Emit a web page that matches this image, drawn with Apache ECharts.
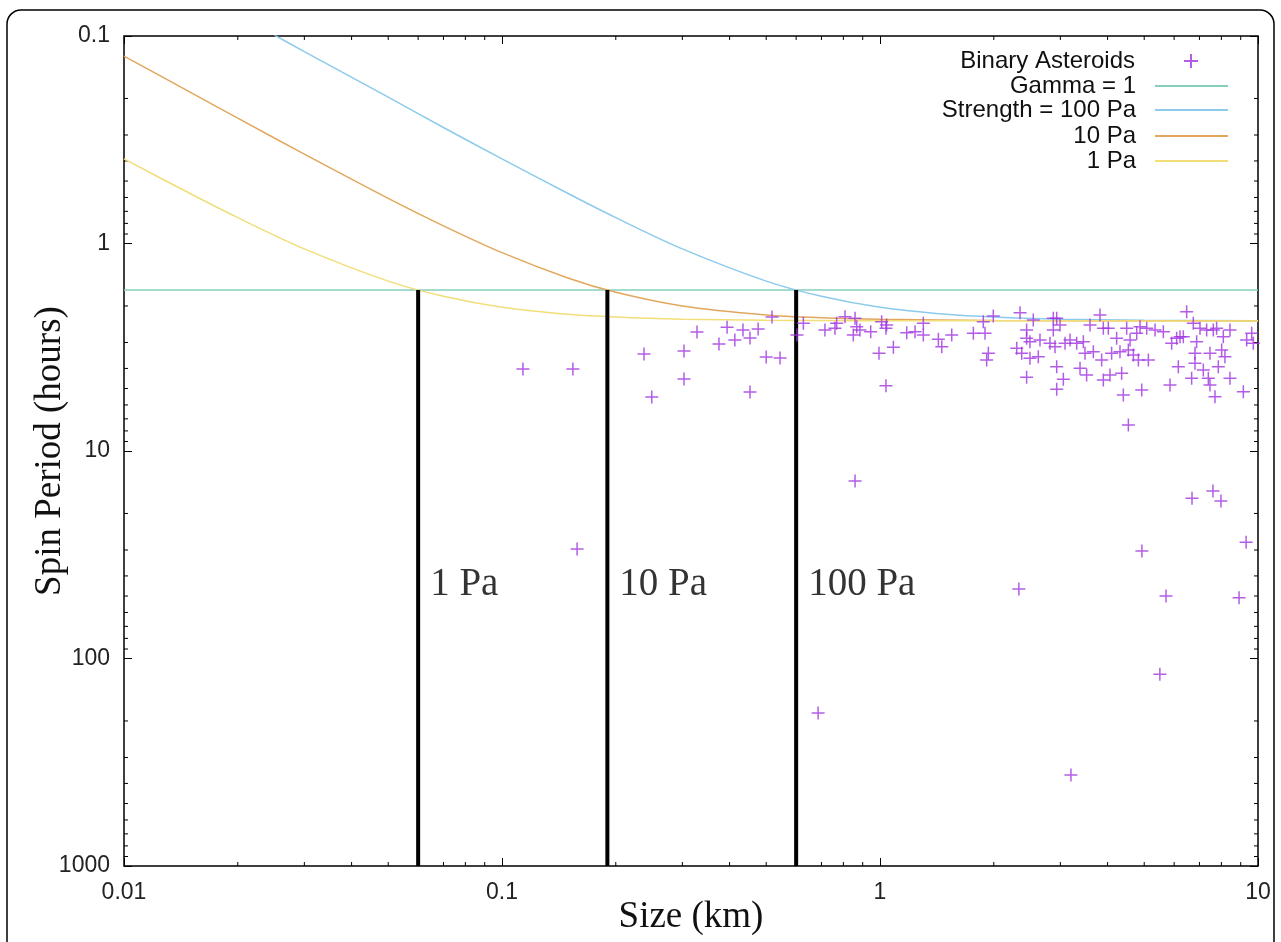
<!DOCTYPE html>
<html>
<head>
<meta charset="utf-8">
<script src="https://cdn.jsdelivr.net/npm/echarts@6/dist/echarts.min.js"></script>
<style>
  html, body { margin: 0; padding: 0; background: #fff; }
  #chart { width: 1281px; height: 942px; }
</style>
</head>
<body>
<div id="chart"></div>
<script>
// binary asteroids: size (km) and spin period (hours)
const sizeKm = [
    0.1136, 0.154, 0.158, 0.2375, 0.249, 0.303, 0.303, 0.328, 0.375, 0.394, 0.413, 0.434, 0.453, 0.476, 0.518, 0.5, 0.544, 0.453, 0.603,
    0.686, 0.859, 2.33, 3.2, 5.5, 4.93, 5.71, 8.91, 9.3, 6.69, 7.6, 7.98,
    0.627, 0.715, 0.760, 0.768, 0.808, 0.850, 0.868, 0.859, 0.885, 0.945, 0.994, 1.01, 1.041, 1.037, 1.085, 1.037,
    1.177, 1.238, 1.302, 1.302, 1.427, 1.457, 1.548, 1.766, 1.876, 1.896, 1.915, 1.935, 1.994,
    2.347, 2.544, 2.443, 2.443, 2.493, 2.30, 2.371, 2.493, 2.623, 2.443, 2.650, 2.816, 2.874, 2.934, 2.994, 2.874,
    2.904, 2.934, 3.055, 2.934, 3.087, 3.182, 3.314, 3.382, 3.451, 3.486, 3.521, 3.594, 3.668, 3.819, 3.898, 3.858,
    3.898, 4.018, 4.059, 4.10, 4.227, 4.314, 4.358, 4.403, 4.494, 4.54, 4.587, 4.681, 4.777, 4.826, 4.875, 4.925,
    5.077, 5.129, 5.341, 5.618, 5.851, 5.91, 6.093, 6.155, 6.218, 6.345, 6.475, 6.675, 6.743, 6.812, 6.812, 6.881,
    7.023, 7.167, 7.314, 7.389, 7.464, 7.464, 7.617, 7.695, 7.773, 7.852, 8.014, 8.095, 8.177, 8.43, 8.43, 9.146,
    9.333, 9.623, 9.72, 4.54
];
const periodH = [
    4.03, 4.03, 29.7, 3.41, 5.49, 3.30, 4.50, 2.67, 3.05, 2.53, 2.92, 2.61, 2.85, 2.58, 2.26, 3.52, 3.56, 5.2, 2.76,
    183, 13.95, 46.2, 364, 119, 30.3, 50, 51, 27.5, 16.9, 15.6, 17.4,
    2.425, 2.611, 2.563, 2.425, 2.253, 2.761, 2.516, 2.295, 2.611, 2.66, 3.382, 2.381, 2.47, 2.563, 3.165, 4.844,
    2.69, 2.66, 2.425, 2.761, 2.897, 3.142, 2.761, 2.71, 2.381, 2.71, 3.644, 3.382, 2.236,
    2.154, 2.338, 2.611, 2.865, 2.973, 3.2, 3.382, 3.576, 3.511, 4.416, 2.918, 3.029, 2.295, 2.295, 2.47, 2.611,
    3.142, 3.924, 4.515, 5.044, 3.029, 2.918, 3.029, 3.997, 2.973, 3.382, 4.304, 2.47, 3.32, 2.211, 2.563, 3.644,
    4.548, 2.563, 4.304, 3.382, 2.865, 3.32, 4.225, 5.372, 2.563, 3.259, 2.918, 3.446, 2.71, 3.644, 2.516, 5.082,
    2.563, 3.644, 2.611, 2.66, 4.808, 3.029, 2.865, 3.924, 2.812, 2.812, 2.13, 4.465, 2.425, 3.781, 3.382, 2.973,
    2.563, 4.072, 2.611, 4.465, 3.382, 4.808, 2.611, 5.473, 2.563, 3.924, 3.259, 2.812, 3.511, 2.611, 4.465, 5.176,
    2.918, 2.71, 3.029, 7.495
];

// strength curves
const curveSize = [0.01, 0.015, 0.02, 0.03, 0.05, 0.07, 0.1, 0.15, 0.2, 0.3, 0.5, 0.7, 1, 2, 5, 10];
const period1Pa = [0.391, 0.576, 0.751, 1.062, 1.518, 1.797, 2.028, 2.194, 2.262, 2.315, 2.344, 2.352, 2.356, 2.359, 2.36, 2.36];
const period10Pa = [0.125, 0.187, 0.249, 0.371, 0.606, 0.822, 1.107, 1.470, 1.718, 1.999, 2.209, 2.279, 2.319, 2.350, 2.358, 2.36];
const curveSize100 = [0.025, 0.03, 0.05, 0.07, 0.1, 0.15, 0.2, 0.3, 0.5, 0.7, 1, 1.5, 2, 3, 5, 10];
const period100Pa = [0.099, 0.119, 0.197, 0.276, 0.391, 0.576, 0.751, 1.062, 1.518, 1.797, 2.028, 2.194, 2.262, 2.315, 2.344, 2.356];

// gamma = 1 line and the vertical strength markers
const gammaSize = [0.01, 10];
const gammaPeriod = [1.675, 1.675];
const markerSize = [0.06, 0.19, 0.6];
const markerLabels = ['1 Pa', '10 Pa', '100 Pa'];
const markerBottom = 1000;
const markerLabelPeriod = 44;

// minor tick positions
const xMinorTicks = [0.02, 0.03, 0.04, 0.05, 0.06, 0.07, 0.08, 0.09, 0.2, 0.3, 0.4, 0.5, 0.6, 0.7, 0.8, 0.9, 2, 3, 4, 5, 6, 7, 8, 9];
const yMinorTicks = [0.2, 0.3, 0.4, 0.5, 0.6, 0.7, 0.8, 0.9, 2, 3, 4, 5, 6, 7, 8, 9, 20, 30, 40, 50, 60, 70, 80, 90, 200, 300, 400, 500, 600, 700, 800, 900];

const legendNames = ['Binary Asteroids', 'Gamma = 1', 'Strength = 100 Pa', '10 Pa', '1 Pa'];

const sans = '"Liberation Sans", Arial, sans-serif';
const serif = '"Liberation Serif", "Times New Roman", serif';
const plusPath = 'path://M0,5 L10,5 M5,0 L5,10';

const zip = (xs, ys) => xs.map((x, i) => [x, ys[i]]);

const myChart = echarts.init(document.getElementById('chart'));

function minorTickX(params, api) {
    const b = api.coord([api.value(0), 1000]);
    const t = api.coord([api.value(0), 0.1]);
    const st = { stroke: '#000', lineWidth: 1 };
    return {
        type: 'group',
        children: [
            { type: 'line', shape: { x1: b[0], y1: b[1], x2: b[0], y2: b[1] - 4 }, style: st },
            { type: 'line', shape: { x1: t[0], y1: t[1], x2: t[0], y2: t[1] + 4 }, style: st },
        ],
    };
}

function minorTickY(params, api) {
    const l = api.coord([0.01, api.value(1)]);
    const r = api.coord([10, api.value(1)]);
    const st = { stroke: '#000', lineWidth: 1 };
    return {
        type: 'group',
        children: [
            { type: 'line', shape: { x1: l[0], y1: l[1], x2: l[0] + 4, y2: l[1] }, style: st },
            { type: 'line', shape: { x1: r[0], y1: r[1], x2: r[0] - 4, y2: r[1] }, style: st },
        ],
    };
}

const legendTops = [49, 74, 98, 124, 149];

const option = {
    backgroundColor: '#fff',
    animation: false,
    graphic: [
        {
            type: 'rect',
            shape: { x: 7, y: 10, width: 1267, height: 960, r: 14 },
            style: { fill: 'none', stroke: '#000', lineWidth: 1.5 },
            silent: true,
        },
    ],
    legend: legendNames.map((name, i) => ({
        data: [i === 0 ? name : { name: name, icon: 'rect' }],
        top: legendTops[i],
        right: i === 0 ? 82 : 53,
        orient: 'vertical',
        align: 'right',
        padding: 0,
        itemWidth: i === 0 ? 14 : 73,
        itemHeight: i === 0 ? 14 : 2,
        selectedMode: false,
        textStyle: {
            fontFamily: sans,
            fontSize: 24,
            color: '#111',
            padding: [0, i === 0 ? 44 : 14, 0, 0],
        },
    })),
    grid: {
        left: 124,
        right: 23,
        top: 36,
        bottom: 76,
        show: true,
        borderColor: '#000',
        borderWidth: 1.5,
        outerBoundsMode: 'none',
    },
    xAxis: [
        {
            type: 'log',
            logBase: 10,
            min: 0.01,
            max: 10,
            name: 'Size (km)',
            nameLocation: 'middle',
            nameGap: 33,
            nameMoveOverlap: false,
            nameTextStyle: { fontFamily: serif, fontSize: 37, color: '#111' },
            axisLine: { show: false },
            axisTick: { inside: true, length: 8, lineStyle: { color: '#000' } },
            axisLabel: { fontFamily: sans, fontSize: 23, color: '#222', margin: 15, formatter: (v) => String(v) },
            splitLine: { show: false },
        },
        {
            type: 'log',
            logBase: 10,
            min: 0.01,
            max: 10,
            position: 'top',
            axisLine: { show: false },
            axisTick: { inside: true, length: 8, lineStyle: { color: '#000' } },
            axisLabel: { show: false },
            splitLine: { show: false },
        },
    ],
    yAxis: [
        {
            type: 'log',
            logBase: 10,
            min: 0.1,
            max: 1000,
            inverse: true,
            name: 'Spin Period (hours)',
            nameLocation: 'middle',
            nameGap: 55,
            nameMoveOverlap: false,
            nameTextStyle: { fontFamily: serif, fontSize: 37, color: '#111' },
            axisLine: { show: false },
            axisTick: { inside: true, length: 8, lineStyle: { color: '#000' } },
            axisLabel: { fontFamily: sans, fontSize: 23, color: '#222', margin: 14, formatter: (v) => String(v) },
            splitLine: { show: false },
        },
        {
            type: 'log',
            logBase: 10,
            min: 0.1,
            max: 1000,
            inverse: true,
            position: 'right',
            axisLine: { show: false },
            axisTick: { inside: true, length: 8, lineStyle: { color: '#000' } },
            axisLabel: { show: false },
            splitLine: { show: false },
        },
    ],
    series: [
        {
            type: 'custom',
            renderItem: minorTickX,
            data: xMinorTicks.map((v) => [v, 1]),
            silent: true,
            z: 1,
        },
        {
            type: 'custom',
            renderItem: minorTickY,
            data: yMinorTicks.map((v) => [1, v]),
            silent: true,
            z: 1,
        },
        {
            name: 'Gamma = 1',
            type: 'line',
            symbol: 'none',
            data: zip(gammaSize, gammaPeriod),
            lineStyle: { color: '#86cfbd', width: 1.5 },
            itemStyle: { color: '#86cfbd' },
            z: 2,
        },
        {
            name: 'Strength = 100 Pa',
            type: 'line',
            symbol: 'none',
            smooth: 0.3,
            data: zip(curveSize100, period100Pa),
            lineStyle: { color: '#8ccbeb', width: 1.5 },
            itemStyle: { color: '#8ccbeb' },
            z: 2,
        },
        {
            name: '10 Pa',
            type: 'line',
            symbol: 'none',
            smooth: 0.3,
            data: zip(curveSize, period10Pa),
            lineStyle: { color: '#e2a75c', width: 1.5 },
            itemStyle: { color: '#e2a75c' },
            z: 2,
        },
        {
            name: '1 Pa',
            type: 'line',
            symbol: 'none',
            smooth: 0.3,
            data: zip(curveSize, period1Pa),
            lineStyle: { color: '#f2de78', width: 1.5 },
            itemStyle: { color: '#f2de78' },
            z: 2,
        },
        ...markerSize.map((x) => ({
            type: 'line',
            symbol: 'none',
            data: [[x, gammaPeriod[0]], [x, markerBottom]],
            lineStyle: { color: '#000', width: 4 },
            silent: true,
            z: 3,
        })),
        {
            type: 'scatter',
            symbolSize: 0,
            silent: true,
            data: markerSize.map((x, i) => ({ name: markerLabels[i], value: [x, markerLabelPeriod] })),
            label: {
                show: true,
                position: 'right',
                distance: 12,
                formatter: '{b}',
                fontFamily: serif,
                fontSize: 39,
                color: '#000',
            },
            z: 4,
        },
        {
            name: 'Binary Asteroids',
            type: 'scatter',
            symbol: plusPath,
            symbolSize: 13,
            data: zip(sizeKm, periodH),
            itemStyle: { color: 'transparent', borderColor: '#a035e0', borderWidth: 1.5 },
            z: 5,
        },
    ],
};

myChart.setOption(option);
</script>
</body>
</html>
